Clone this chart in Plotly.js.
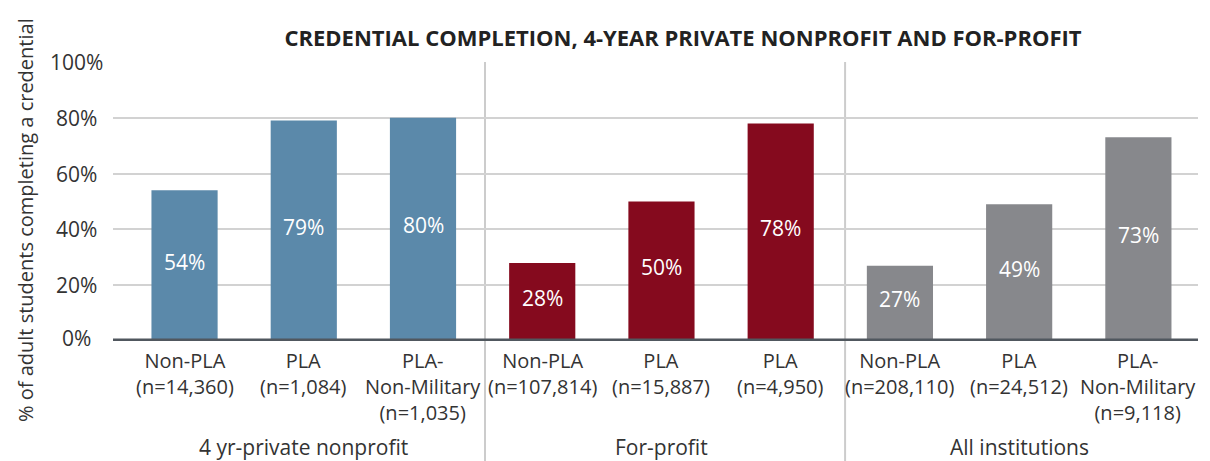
<!DOCTYPE html>
<html><head><meta charset="utf-8">
<script src="https://cdn.plot.ly/plotly-3.0.1.min.js"></script>
<style>html,body{margin:0;padding:0;background:#fff}#chart{width:1210px;height:461px}</style>
</head><body><div id="chart"></div>
<script>
const categories = ["Non-PLA<br>(n=14,360)","PLA<br>(n=1,084)","PLA-<br>Non-Military<br>(n=1,035)",
  "Non-PLA<br>(n=107,814)","PLA<br>(n=15,887)","PLA<br>(n=4,950)",
  "Non-PLA<br>(n=208,110)","PLA<br>(n=24,512)","PLA-<br>Non-Military<br>(n=9,118)"];
const values = [54,79,80,28,50,78,27,49,73];
const groups = ["4 yr-private nonprofit","For-profit","All institutions"];
const groupColors = ["#5b89aa","#850a1e","#87888c"];
const yTicks = [0,20,40,60,80,100];

const idx = categories.map((_, i) => i);
const colors = idx.map(i => groupColors[Math.floor(i/3)]);
const font = "Open Sans, Noto Sans, sans-serif";
const plotH = 279, plotW = 1085, plotL = 113, plotB = 341;
const pyToPaper = py => (plotB - py) / plotH;
const pxToPaper = px => (px - plotL) / plotW;

const trace = {
  type: 'bar', x: idx, y: values, width: 0.555,
  marker: {color: colors},
  hoverinfo: 'none'
};

const shapes = [
  {type:'line', xref:'x', yref:'paper', x0:2.52, x1:2.52, y0:-0.44, y1:1, line:{color:'#cccccc', width:2}, layer:'below'},
  {type:'line', xref:'x', yref:'paper', x0:5.54, x1:5.54, y0:-0.44, y1:1, line:{color:'#cccccc', width:2}, layer:'below'},
  {type:'line', xref:'paper', yref:'y', x0:0, x1:1, y0:0, y1:0, line:{color:'#50575e', width:5}, layer:'above'}
];

const annotations = [];
// value labels inside bars
values.forEach((v, i) => {
  annotations.push({text: v + '%', x: i, xref: 'x', y: v / 2, yref: 'y', yshift: 4,
    xanchor: 'center', yanchor: 'middle', showarrow: false,
    font: {size: 21, color: '#ffffff', family: font}});
});
// y tick labels (centered, as in the reference)
yTicks.forEach(t => {
  annotations.push({text: t + '%', x: pxToPaper(76), xref: 'paper', y: t, yref: 'y', yshift: t === 0 ? 3 : 0,
    xanchor: 'center', yanchor: 'middle', showarrow: false,
    font: {size: 21, color: '#333333', family: font}});
});
categories.forEach((c, i) => {
  annotations.push({text: c, x: i, xref: 'x', y: pyToPaper(346), yref: 'paper',
    yanchor: 'top', xanchor: 'center', align: 'center', showarrow: false, borderpad: 0,
    font: {size: 20, color: '#333333', family: font}});
});
groups.forEach((g, k) => {
  annotations.push({text: g, x: 3*k + 1, xref: 'x', y: pyToPaper(447), yref: 'paper', yanchor: 'middle',
    showarrow: false, font: {size: 21, color: '#333333', family: font}});
});
annotations.push({text: '% of adult students completing a credential', textangle: -90,
  x: pxToPaper(25), xref: 'paper', xanchor: 'center', y: pyToPaper(220), yref: 'paper', yanchor: 'middle',
  showarrow: false, font: {size: 20, color: '#333333', family: font}});

const layout = {
  width: 1210, height: 461,
  margin: {l: 113, r: 12, t: 62, b: 120},
  paper_bgcolor: '#ffffff', plot_bgcolor: '#ffffff',
  showlegend: false,
  title: {text: '<b>CREDENTIAL COMPLETION, 4-YEAR PRIVATE NONPROFIT AND FOR-PROFIT</b>',
          x: 683/1210, xref: 'container', xanchor: 'center', y: 1 - 38/461, yref: 'container', yanchor: 'middle',
          font: {size: 22, color: '#222222', family: font}},
  xaxis: {range: [-0.6, 8.5], showticklabels: false, showgrid: false,
          zeroline: false, showline: false, ticks: '', fixedrange: true},
  yaxis: {range: [0, 100], tickvals: yTicks, showticklabels: false,
          showgrid: true, gridcolor: '#d2d2d2', gridwidth: 2, zeroline: false, showline: false,
          ticks: ''},
  shapes: shapes, annotations: annotations
};

Plotly.newPlot('chart', [trace], layout, {displayModeBar: false, staticPlot: true});
</script></body></html>
